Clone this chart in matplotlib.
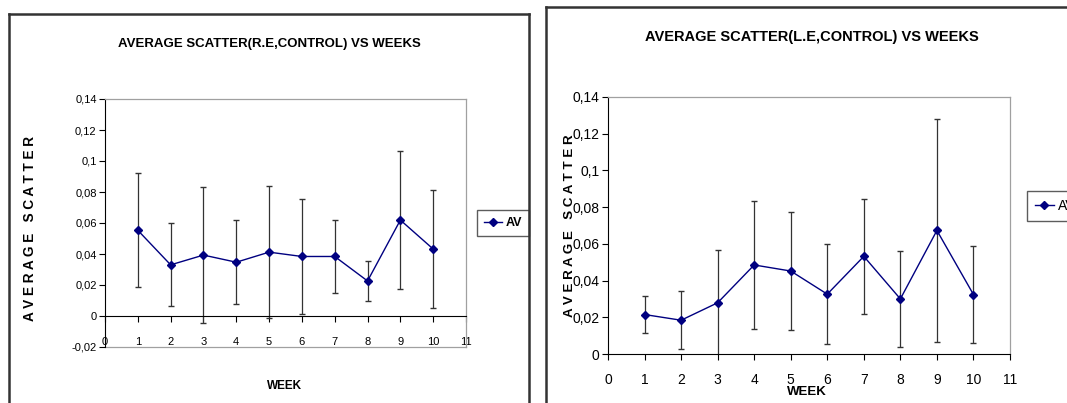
import matplotlib
matplotlib.use("Agg")
import matplotlib.pyplot as plt
from matplotlib.lines import Line2D

plt.rcParams['font.family'] = ['Liberation Sans', 'DejaVu Sans']

weeks = [1, 2, 3, 4, 5, 6, 7, 8, 9, 10]

# right eye, control group
re_avg = [0.0553, 0.0330, 0.0393, 0.0347, 0.0412, 0.0384, 0.0384, 0.0226, 0.0619, 0.0432]
re_err = [0.0369, 0.0268, 0.0437, 0.0272, 0.0424, 0.0370, 0.0234, 0.0131, 0.0446, 0.0382]

# left eye, control group
le_avg = [0.0215, 0.0184, 0.0279, 0.0485, 0.0452, 0.0326, 0.0532, 0.0300, 0.0673, 0.0324]
le_err = [0.0103, 0.0158, 0.0289, 0.0348, 0.0321, 0.0274, 0.0314, 0.0262, 0.0607, 0.0263]

x_ticks = list(range(0, 12))
re_yticks = [-0.02, 0, 0.02, 0.04, 0.06, 0.08, 0.1, 0.12, 0.14]
le_yticks = [0, 0.02, 0.04, 0.06, 0.08, 0.1, 0.12, 0.14]

W, H = 1067, 403
NAVY = '#000080'
GRID = '#a0a0a0'
YLABEL = 'A V E R A G E   S C A T T E R'


def fx(px):
    return px / W


def fy(py):
    return 1 - py / H


def comma(v):
    s = ('%g' % v).replace('.', ',')
    return '0' if s in ('0', '-0') else s


def draw_series(ax, avg, err):
    ax.errorbar(weeks, avg, yerr=err, fmt='none', ecolor='#333333',
                elinewidth=0.9, capsize=2.5, capthick=1.0, zorder=2)
    ax.plot(weeks, avg, color=NAVY, lw=1.0, marker='D', ms=4.5,
            mfc=NAVY, mec=NAVY, label='AV', zorder=3)


def style_axes(ax, yticks, ymin, fs, xpad):
    ax.set_xlim(0, 11)
    ax.set_ylim(ymin, 0.14)
    ax.set_xticks(x_ticks)
    ax.set_yticks(yticks)
    ax.set_yticklabels([comma(v) for v in yticks])
    ax.spines['bottom'].set_color('black')
    ax.spines['left'].set_color('black')
    for s in ('top', 'right'):
        ax.spines[s].set_color(GRID)
        ax.spines[s].set_linewidth(0.9)
    ax.tick_params(axis='x', direction='out', length=4, width=0.8, pad=xpad, labelsize=fs)
    ax.tick_params(axis='y', direction='out', length=4, width=0.8, pad=2, labelsize=fs)


def add_legend(ax, anchor, loc, prop):
    leg = ax.legend(loc=loc, bbox_to_anchor=anchor, bbox_transform=fig.transFigure,
                    frameon=True, fancybox=False, handlelength=1.4,
                    handletextpad=0.3, borderpad=0.55, borderaxespad=0, prop=prop)
    leg.get_frame().set_edgecolor('#333333')
    leg.get_frame().set_linewidth(1.0)
    return leg


fig = plt.figure(figsize=(W / 100, H / 100), dpi=100)

# outer chart frames
frame = dict(color='#333333', lw=1.8, transform=fig.transFigure)
fig.add_artist(Line2D([fx(9), fx(9)], [fy(14), -0.05], **frame))
fig.add_artist(Line2D([fx(9), fx(529)], [fy(14), fy(14)], **frame))
fig.add_artist(Line2D([fx(529), fx(529)], [fy(14), -0.05], **frame))
fig.add_artist(Line2D([fx(546), fx(546)], [fy(7), -0.05], **frame))
fig.add_artist(Line2D([fx(546), 1.05], [fy(7), fy(7)], **frame))

# ---- right eye ----
ax1 = fig.add_axes([fx(105), fy(347), fx(466 - 105), (347 - 99) / H])
draw_series(ax1, re_avg, re_err)
style_axes(ax1, re_yticks, -0.02, 8, 11)
# x axis crosses at zero, labels stay at the bottom of the plot area
ax1.spines['bottom'].set_position(('data', 0))
ax1.axhline(-0.02, color=GRID, lw=0.9, clip_on=False, zorder=1)

fig.text(fx(269), fy(44), 'AVERAGE SCATTER(R.E,CONTROL) VS WEEKS', ha='center',
         va='center', fontsize=9.5, fontweight='bold')
fig.text(fx(30), fy(228), YLABEL, rotation=90, ha='center', va='center',
         fontsize=9.8, fontweight='bold')
fig.text(fx(285), fy(386), 'WEEK', ha='center', va='center',
         fontsize=8.5, fontweight='bold')
add_legend(ax1, (fx(503), fy(223)), 'center', {'weight': 'bold', 'size': 9})

# ---- left eye ----
ax2 = fig.add_axes([fx(608), fy(354), fx(1010 - 608), (354 - 97) / H])
draw_series(ax2, le_avg, le_err)
style_axes(ax2, le_yticks, 0, 10, 10)

fig.text(fx(812), fy(37), 'AVERAGE SCATTER(L.E,CONTROL) VS WEEKS', ha='center',
         va='center', fontsize=10.5, fontweight='bold')
fig.text(fx(570), fy(226), YLABEL, rotation=90, ha='center', va='center',
         fontsize=9.6, fontweight='bold')
fig.text(fx(807), fy(392), 'WEEK', ha='center', va='center',
         fontsize=9.5, fontweight='bold')
add_legend(ax2, (fx(1027), fy(206)), 'center left', {'size': 10})

fig.savefig('out.png', dpi=100)
